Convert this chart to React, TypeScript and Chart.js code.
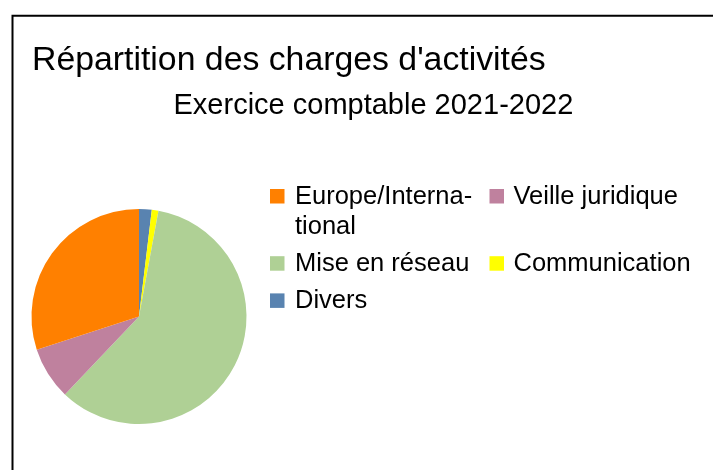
import React, { useEffect, useRef } from "react";
import { Chart, registerables } from "chart.js";

Chart.register(...registerables);

// ---- data (legend order) ----
const categories = [
  "Europe/International",
  "Veille juridique",
  "Mise en réseau",
  "Communication",
  "Divers",
];
const legendLines = [
  ["Europe/Interna-", "tional"],
  ["Veille juridique"],
  ["Mise en réseau"],
  ["Communication"],
  ["Divers"],
];
const shares = [30.0, 7.9, 59.2, 1.0, 1.9];
const colors = ["#ff8000", "#bf819e", "#afd095", "#ffff00", "#5983b0"];
const titleText = "Répartition des charges d'activités";
const subtitleText = "Exercice comptable 2021-2022";

const FONT = '"Liberation Sans", Arial, sans-serif';

function drawText(
  ctx: CanvasRenderingContext2D,
  text: string,
  x: number,
  y: number,
  size: number
) {
  ctx.font = `${size}px ${FONT}`;
  ctx.fillText(text, x, y);
}

const decorPlugin = {
  id: "decor",
  afterDraw(chart: any) {
    const ctx: CanvasRenderingContext2D = chart.ctx;
    ctx.save();
    // frame
    ctx.strokeStyle = "#000";
    ctx.lineWidth = 2;
    ctx.beginPath();
    ctx.moveTo(12.5, 490);
    ctx.lineTo(12.5, 15.8);
    ctx.lineTo(730, 15.8);
    ctx.stroke();

    // titles
    ctx.fillStyle = "#000";
    ctx.textBaseline = "alphabetic";
    ctx.textAlign = "left";
    drawText(ctx, titleText, 32, 70, 33.8);
    drawText(ctx, subtitleText, 173.5, 114, 29);

    // legend (2 columns), in category order
    const ds = chart.data.datasets[0];
    const n = categories.length;
    const colSquareX = [270, 489.5];
    const colTextX = [295, 513.5];
    let baseline = 204;
    for (let r = 0; r * 2 < n; r++) {
      let maxLines = 1;
      for (let c = 0; c < 2; c++) {
        const i = r * 2 + c;
        if (i >= n) break;
        // dataset is stored in reversed order (clockwise drawing)
        const color = ds.backgroundColor[n - 1 - i];
        ctx.fillStyle = color;
        ctx.fillRect(colSquareX[c], baseline - 15, 14.5, 14.5);
        ctx.fillStyle = "#000";
        const lines = legendLines[i];
        lines.forEach((ln, k) => {
          drawText(ctx, ln, colTextX[c], baseline + k * 30, 25.5);
        });
        maxLines = Math.max(maxLines, lines.length);
      }
      baseline += (maxLines - 1) * 30 + 37.2;
    }
    ctx.restore();
  },
};

export default function App() {
  const ref = useRef<HTMLCanvasElement | null>(null);

  useEffect(() => {
    if (!ref.current) return;
    // The reference runs counter-clockwise from 12 o'clock; Chart.js draws clockwise,
    // so feed the slices reversed.
    const labels = [...categories].reverse();
    const data = [...shares].reverse();
    const bg = [...colors].reverse();
    const chart = new Chart(ref.current, {
      type: "pie",
      data: {
        labels,
        datasets: [
          {
            data,
            backgroundColor: bg,
            borderWidth: 0,
          },
        ],
      },
      options: {
        responsive: false,
        animation: false,
        layout: {
          padding: { left: 31.5, right: 466.5, top: 209, bottom: 46 },
        },
        plugins: {
          legend: { display: false },
          title: { display: false },
          tooltip: { enabled: false },
        },
      },
      plugins: [decorPlugin],
    });
    return () => chart.destroy();
  }, []);

  return (
    <div
      style={{
        position: "absolute",
        left: 0,
        top: 0,
        width: 713,
        height: 470,
        background: "#fff",
      }}
    >
      <canvas ref={ref} width={713} height={470} style={{ display: "block" }} />
    </div>
  );
}
